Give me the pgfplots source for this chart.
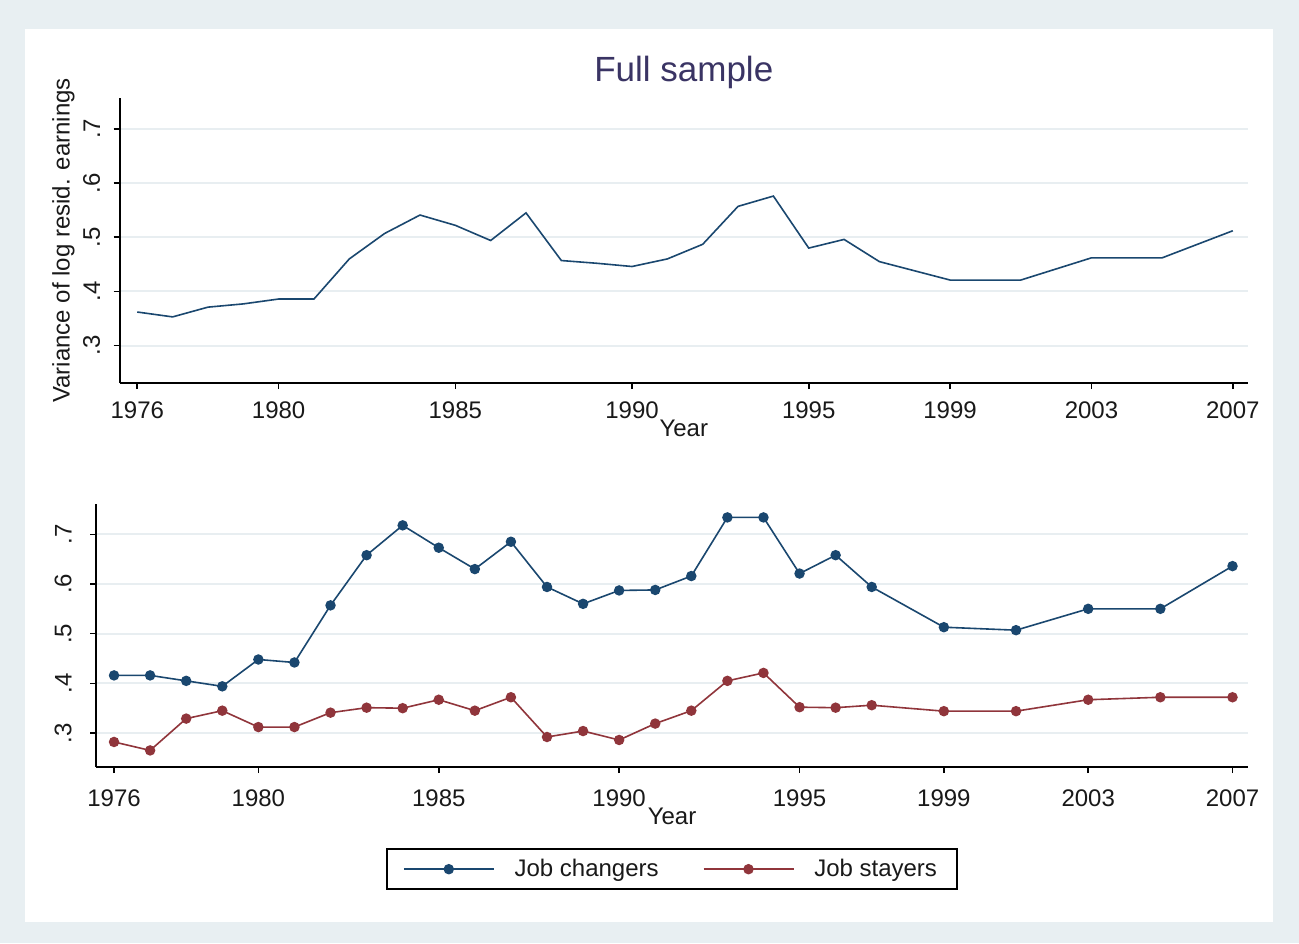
\documentclass[border=0pt]{standalone}
\usepackage{pgfplots}
\pgfplotsset{compat=1.18}
\usepackage{fontspec}
\setmainfont{Liberation Sans}
\definecolor{bgout}{RGB}{232,239,242}
\definecolor{gridc}{RGB}{232,238,241}
\definecolor{sblue}{RGB}{26,71,111}
\definecolor{sred}{RGB}{144,53,59}
\definecolor{titlec}{RGB}{58,52,100}

\pgfplotsset{
 stata/.style={
  scale only axis,
  axis lines=left,
  axis line style={-, line width=1pt, black},
  tick align=outside,
  major tick length=3pt,
  tick style={black, line width=0.8pt},
  xtick={1976,1980,1985,1990,1995,1999,2003,2007},
  xticklabels={1976,1980,1985,1990,1995,1999,2003,2007},
  ytick={0.3,0.4,0.5,0.6,0.7},
  yticklabels={.3,.4,.5,.6,.7},
  ymajorgrids,
  grid style={gridc, line width=1pt},
  xmin=1975.5, xmax=2007.43,
  ticklabel style={font=\fontsize{12}{14}\selectfont, text=black!90},
  xticklabel style={anchor=north, inner sep=0pt},
  yticklabel style={rotate=90, anchor=south, inner sep=0pt},
  xlabel={Year},
 }
}

\begin{document}
\begin{tikzpicture}
\fill[bgout] (0,0) rectangle (649.5pt,471.5pt);
\fill[white] (12.5pt,10.5pt) rectangle (636.5pt,457pt);

\begin{axis}[stata,
  at={(59.8pt,280pt)}, anchor=south west,
  width=564.2pt, height=142.5pt,
  ymin=0.231, ymax=0.757,
  xticklabel shift=6pt,
  yticklabel shift=6.5pt,
  xlabel style={at={(axis description cs:0.5,0)}, anchor=north, inner sep=0pt, yshift=-18.5pt, font=\fontsize{12}{14}\selectfont, text=black!90},
  title={Full sample},
  title style={at={(axis description cs:0.5,1)}, anchor=base, inner sep=0pt, yshift=2.5pt, font=\fontsize{17.5}{20}\selectfont, text=titlec},
  ylabel={Variance of log resid. earnings},
  ylabel style={at={([xshift=-25pt]axis description cs:0,0.5)}, anchor=base, inner sep=0pt, rotate=0, font=\fontsize{12}{14}\selectfont, text=black!90},
]
\addplot[sblue, line width=0.8pt, mark=none] coordinates {
(1976,0.362) (1977,0.353) (1978,0.371) (1979,0.377) (1980,0.386) (1981,0.386)
(1982,0.460) (1983,0.507) (1984,0.541) (1985,0.522) (1986,0.494) (1987,0.545)
(1988,0.457) (1989,0.452) (1990,0.446) (1991,0.460) (1992,0.487) (1993,0.557)
(1994,0.576) (1995,0.480) (1996,0.496) (1997,0.455) (1999,0.421) (2001,0.421)
(2003,0.462) (2005,0.462) (2007,0.512)
};
\end{axis}

\begin{axis}[stata,
  at={(48pt,88pt)}, anchor=south west,
  width=576pt, height=131.5pt,
  ymin=0.2316, ymax=0.761,
  xticklabel shift=8pt,
  yticklabel shift=9pt,
  xlabel style={at={(axis description cs:0.5,0)}, anchor=north, inner sep=0pt, yshift=-20.5pt, font=\fontsize{12}{14}\selectfont, text=black!90},
  legend style={at={(0.5,0)}, anchor=north, yshift=-40.5pt, draw=black, line width=1pt,
    font=\fontsize{12}{14}\selectfont, text=black!90, inner xsep=8pt, inner ysep=3pt,
    /tikz/every odd column/.append style={column sep=8pt},
    /tikz/every even column/.append style={column sep=20pt}},
  legend columns=2,
  legend image code/.code={\draw[mark repeat=2,mark phase=2,#1] plot coordinates {(0pt,0pt) (22.5pt,0pt) (45pt,0pt)};},
]
\addplot[sblue, line width=0.8pt, mark=*, mark size=2.2pt] coordinates {
(1976,0.416) (1977,0.416) (1978,0.405) (1979,0.394) (1980,0.448) (1981,0.442)
(1982,0.557) (1983,0.658) (1984,0.718) (1985,0.673) (1986,0.630) (1987,0.685)
(1988,0.594) (1989,0.560) (1990,0.587) (1991,0.588) (1992,0.616) (1993,0.734)
(1994,0.734) (1995,0.621) (1996,0.658) (1997,0.594) (1999,0.513) (2001,0.507)
(2003,0.550) (2005,0.550) (2007,0.636)
};
\addlegendentry{Job changers}
\addplot[sred, line width=0.8pt, mark=*, mark size=2.2pt] coordinates {
(1976,0.282) (1977,0.265) (1978,0.329) (1979,0.345) (1980,0.312) (1981,0.312)
(1982,0.341) (1983,0.351) (1984,0.350) (1985,0.367) (1986,0.345) (1987,0.372)
(1988,0.292) (1989,0.304) (1990,0.286) (1991,0.319) (1992,0.345) (1993,0.405)
(1994,0.421) (1995,0.352) (1996,0.351) (1997,0.356) (1999,0.344) (2001,0.344)
(2003,0.367) (2005,0.372) (2007,0.372)
};
\addlegendentry{Job stayers}
\end{axis}
\end{tikzpicture}
\end{document}
